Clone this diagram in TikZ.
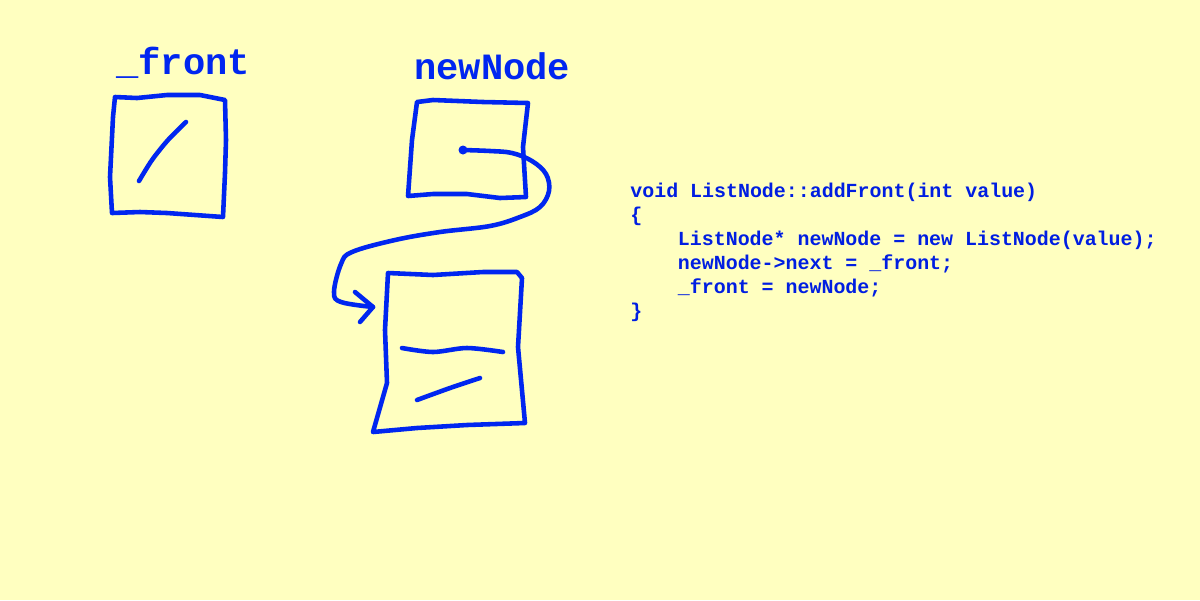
\documentclass[tikz,border=0pt]{standalone}
\usepackage{fontspec}
\setmonofont{Liberation Mono}
\definecolor{paper}{RGB}{255,255,192}
\definecolor{ink}{RGB}{0,38,240}
\definecolor{codeblue}{RGB}{0,30,225}
\tikzset{
    pen/.style={draw=ink, line width=2.6pt, line cap=round, line join=round},
    title/.style={anchor=base west, inner sep=0pt, text=ink, font=\ttfamily\bfseries\fontsize{21.1}{24}\selectfont},
    codeline/.style={anchor=base west, inner sep=0pt, text=codeblue, font=\ttfamily\bfseries\fontsize{11.35}{13.6}\selectfont}
}
\begin{document}
\begin{tikzpicture}[x=0.02cm, y=-0.02cm]
        \fill[paper] (0,0) rectangle (1200,600);
        \useasboundingbox (0,0) rectangle (1200,600);

        % labels above the boxes
        \node[title] (frontlbl) at (116,74) {\_front};
        \node[title] (newlbl) at (414,79) {newNode};

        % _front box with its null slash
        \draw[pen] (115,97) -- (137,98) -- (167,95) -- (200,95) -- (225,100)
            -- (226,140) -- (225,173) -- (223,217)
            -- (167,213) -- (140,212) -- (112,213)
            -- (110,177) -- (113,117) -- cycle;
        \draw[pen] plot[smooth] coordinates {(186,122) (168,140) (152,160) (139,181)};

        % newNode box
        \draw[pen] (417,102) -- (433,100) -- (483,102) -- (528,103)
            -- (523,147) -- (526,197)
            -- (500,198) -- (467,194) -- (433,194) -- (408,196)
            -- (412,140) -- cycle;

        % new list node
        \draw[pen] (388,273) -- (433,275) -- (483,272) -- (517,272) -- (522,278)
            -- (518,347) -- (525,423)
            -- (467,425) -- (417,428) -- (373,432)
            -- (387,383) -- (385,330) -- cycle;
        \draw[pen] plot[smooth] coordinates {(402,348) (433,352) (467,348) (503,352)};
        \draw[pen] plot[smooth] coordinates {(417,400) (450,388) (480,378)};

        % pointer from newNode to the new node
        \coordinate (dot) at (463,150);
        \coordinate (tip) at (373,307);
        \fill[ink] (dot) circle (4.5);
        \draw[pen] plot[smooth, tension=0.6] coordinates {(dot) (490,151) (512,153) (532,161)
            (546,174) (549,191) (540,207) (520,217) (490,226) (440,232) (395,240)
            (352,252) (341,264) (334,292) (341,302) (tip)};
        \draw[pen] (355,292) -- (tip) -- (360,322);

        % code
        \node[codeline] (code1) at (630,197) {void ListNode::addFront(int value)};
        \node[codeline] (code2) at (630,221) {\{};
        \node[codeline] (code3) at (677.6,245) {ListNode* newNode = new ListNode(value);};
        \node[codeline] (code4) at (677.6,269) {newNode->next = \_front;};
        \node[codeline] (code5) at (677.6,293) {\_front = newNode;};
        \node[codeline] (code6) at (630,317) {\}};
    \end{tikzpicture}
\end{document}
